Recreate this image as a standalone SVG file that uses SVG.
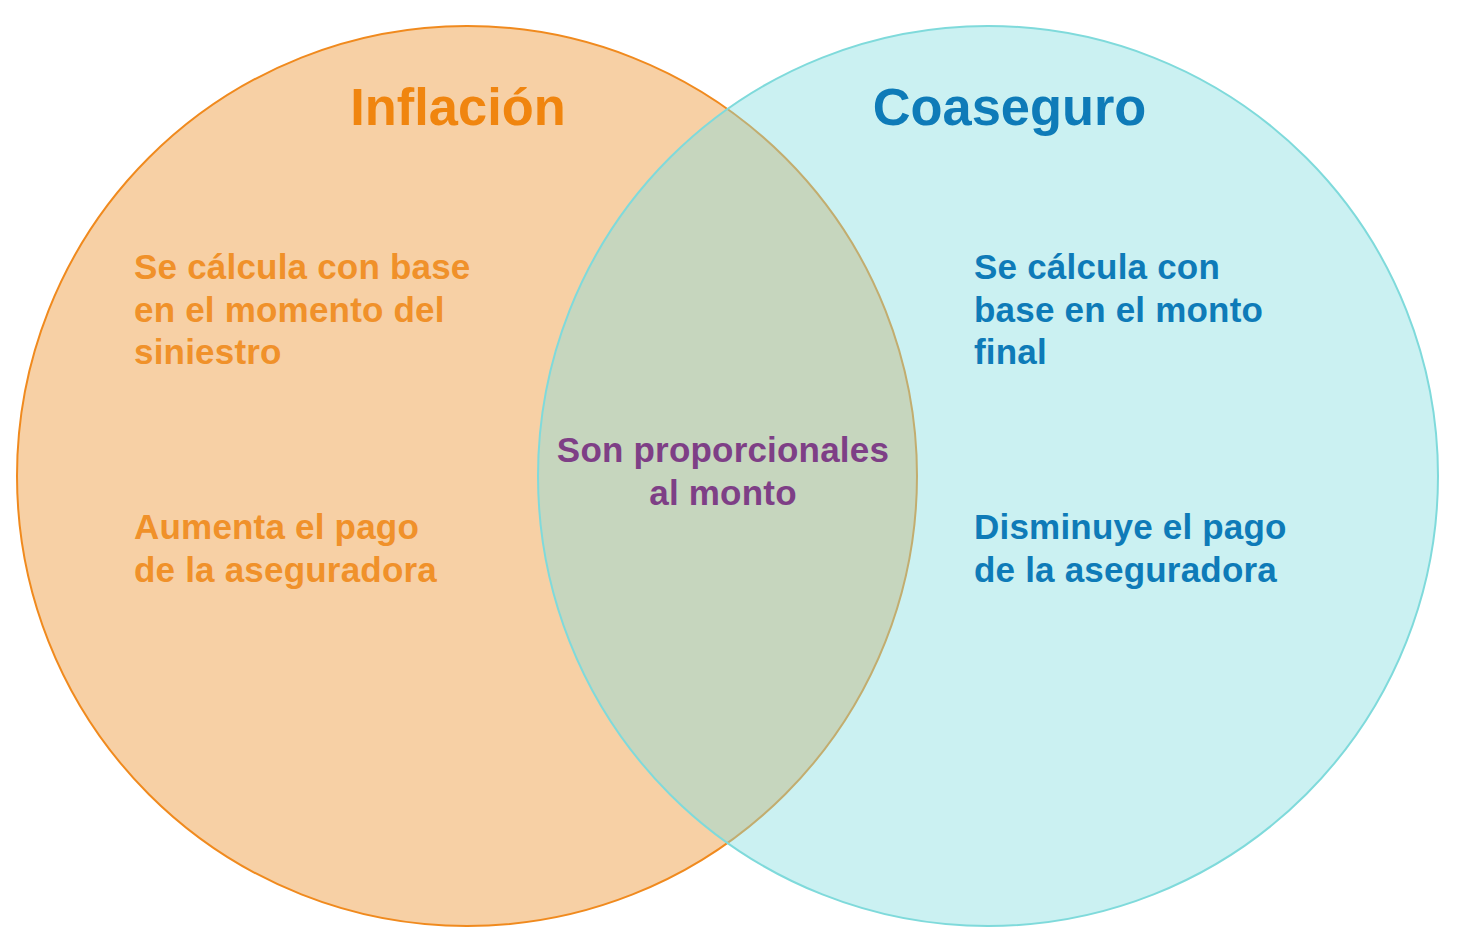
<svg xmlns="http://www.w3.org/2000/svg" width="1461" height="951" viewBox="0 0 1461 951">
<style>
.t{font-family:"Liberation Sans",Arial,sans-serif;font-weight:bold}
.title{font-size:52.4px}
.body{font-size:35px;letter-spacing:0.2px}
.or{fill:#F0912A}
.bl{fill:#0E7BB8}
</style>
<rect width="1461" height="951" fill="#FFFFFF"/>
<g id="set-inflacion">
<circle cx="467" cy="476" r="450" fill="#F7D0A5" stroke="#F08A1E" stroke-width="2"/>
</g>
<g id="set-coaseguro">
<circle cx="988" cy="476" r="450" fill="#83DEE0" fill-opacity="0.42" stroke="#7FDADB" stroke-width="2"/>
</g>
<g id="label-inflacion">
<text class="t title" x="458" y="125" text-anchor="middle" fill="#F0850F">Inflación</text>
</g>
<g id="label-coaseguro">
<text class="t title" x="1009.5" y="125" text-anchor="middle" fill="#0E7BB8">Coaseguro</text>
</g>
<g id="inflacion-1">
<text class="t body or" x="134" y="279">Se cálcula con base</text>
<text class="t body or" x="134" y="321.5">en el momento del</text>
<text class="t body or" x="134" y="364">siniestro</text>
</g>
<g id="inflacion-2">
<text class="t body or" x="134" y="539">Aumenta el pago</text>
<text class="t body or" x="134" y="581.5">de la aseguradora</text>
</g>
<g id="coaseguro-1">
<text class="t body bl" x="974" y="279">Se cálcula con</text>
<text class="t body bl" x="974" y="321.5">base en el monto</text>
<text class="t body bl" x="974" y="364">final</text>
</g>
<g id="coaseguro-2">
<text class="t body bl" x="974" y="539">Disminuye el pago</text>
<text class="t body bl" x="974" y="581.5">de la aseguradora</text>
</g>
<g id="interseccion">
<text class="t body" x="723" y="462" text-anchor="middle" fill="#7E3F86">Son proporcionales</text>
<text class="t body" x="723" y="504.5" text-anchor="middle" fill="#7E3F86">al monto</text>
</g>
<g id="connectors"></g>
</svg>
